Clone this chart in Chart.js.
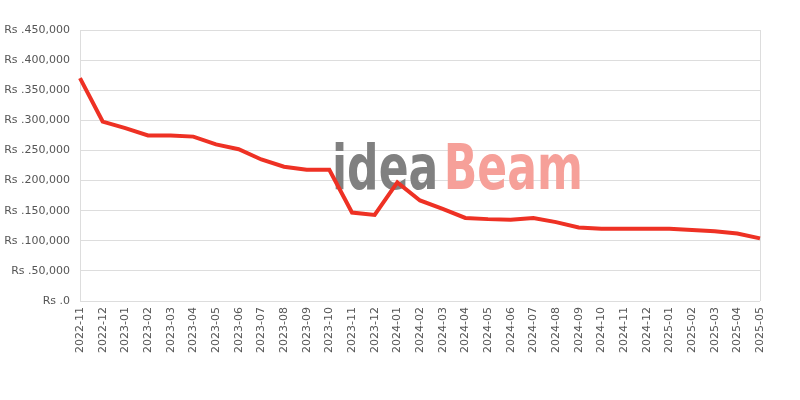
<!DOCTYPE html>
<html>
<head>
<meta charset="utf-8">
<script src="https://cdn.jsdelivr.net/npm/chart.js@4"></script>
<style>
    html, body { margin: 0; padding: 0; background: #ffffff; }
    #wrap { width: 800px; height: 400px; position: relative; }
</style>
</head>
<body>
<div id="wrap"><canvas id="priceChart"></canvas></div>
<script>
const months = [
    '2022-11', '2022-12', '2023-01', '2023-02', '2023-03', '2023-04', '2023-05', '2023-06',
    '2023-07', '2023-08', '2023-09', '2023-10', '2023-11', '2023-12', '2024-01', '2024-02',
    '2024-03', '2024-04', '2024-05', '2024-06', '2024-07', '2024-08', '2024-09', '2024-10',
    '2024-11', '2024-12', '2025-01', '2025-02', '2025-03', '2025-04', '2025-05'
];
const prices = [
    370000, 298000, 287000, 275000, 275000, 273000, 260000, 252000,
    235000, 223000, 218000, 218000, 147000, 143000, 197000, 167000,
    153000, 138000, 136000, 135000, 138000, 131000, 122000, 120000,
    120000, 120000, 120000, 118000, 116000, 112000, 104000
];
const yMax = 450000;
const yStep = 50000;

const axisFont = { family: 'DejaVu Sans', size: 11 };
const axisColor = '#555555';
const gridColor = '#dddddd';

// watermark drawn behind the line (narrowed bold text)
const watermark = {
    id: 'watermark',
    beforeDatasetsDraw(chart) {
        const ctx = chart.ctx;
        ctx.save();
        ctx.translate(332, 189);
        ctx.scale(0.79, 1);
        ctx.font = 'bold 62px "DejaVu Sans Condensed"';
        ctx.textBaseline = 'alphabetic';
        ctx.fillStyle = '#808080';
        ctx.fillText('idea', 0, 0);
        const w = ctx.measureText('idea').width;
        ctx.fillStyle = '#f6a099';
        ctx.fillText('Beam', w + 7, 0);
        ctx.restore();
    }
};

const ctx = document.getElementById('priceChart').getContext('2d');
new Chart(ctx, {
    type: 'line',
    data: {
        labels: months,
        datasets: [{
            data: prices,
            borderColor: '#ee3124',
            borderWidth: 4,
            pointRadius: 0,
            tension: 0,
            fill: false
        }]
    },
    options: {
        responsive: true,
        maintainAspectRatio: false,
        animation: false,
        layout: {
            padding: { top: 30, right: 40, bottom: 41, left: 0 }
        },
        scales: {
            x: {
                offset: false,
                grid: {
                    drawTicks: false,
                    color: c => (c.index === 0 || c.index === months.length - 1) ? gridColor : 'rgba(0,0,0,0)'
                },
                border: { display: false },
                ticks: {
                    color: axisColor,
                    font: axisFont,
                    autoSkip: false,
                    maxRotation: 90,
                    minRotation: 90,
                    padding: 6
                }
            },
            y: {
                min: 0,
                max: yMax,
                afterFit: axis => { axis.width = 80; },
                grid: { drawTicks: false, color: gridColor },
                border: { display: false },
                ticks: {
                    stepSize: yStep,
                    color: axisColor,
                    font: axisFont,
                    padding: 10,
                    callback: v => v === 0 ? 'Rs .0' : 'Rs .' + v.toLocaleString('en-US')
                }
            }
        },
        plugins: {
            legend: { display: false },
            tooltip: { enabled: false }
        }
    },
    plugins: [watermark]
});
</script>
</body>
</html>
